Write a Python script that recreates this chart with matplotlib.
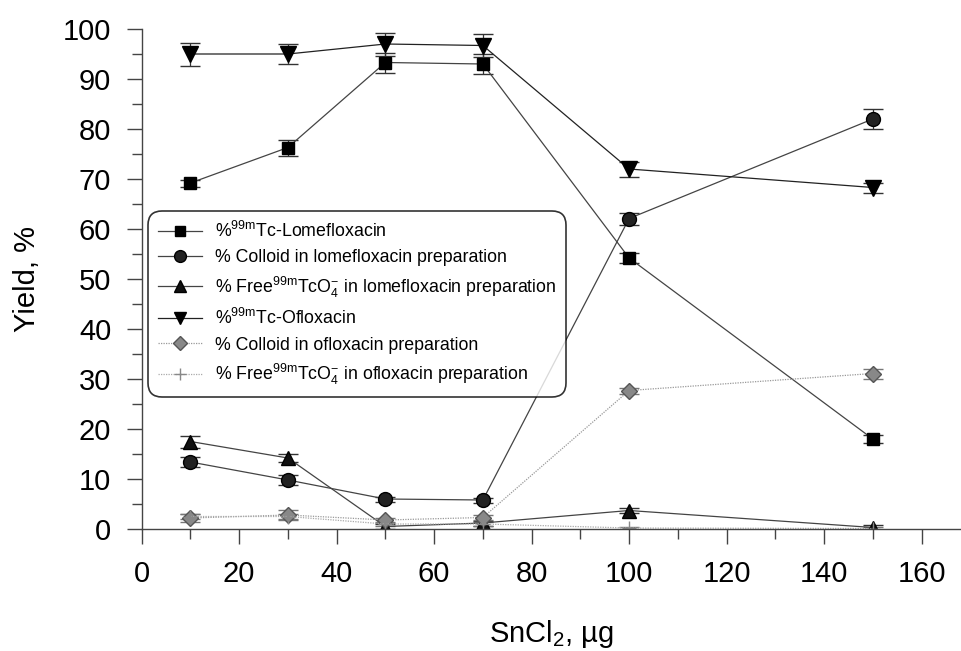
import matplotlib
matplotlib.use("Agg")
import matplotlib.pyplot as plt
from matplotlib.ticker import MultipleLocator
from matplotlib.lines import Line2D

plt.rcParams['font.family'] = ['Liberation Sans', 'DejaVu Sans']
plt.rcParams['mathtext.fontset'] = 'custom'
plt.rcParams['mathtext.rm'] = 'Liberation Sans'
plt.rcParams['mathtext.it'] = 'Liberation Sans'

x = [10, 30, 50, 70, 100, 150]

tc_lome = [69.2, 76.3, 93.3, 93.0, 54.2, 18.0]
tc_lome_err = [0.7, 1.6, 2.0, 2.0, 1.0, 0.8]
col_lome = [13.4, 9.8, 6.0, 5.8, 62.1, 82.0]
col_lome_err = [1.0, 1.0, 0.5, 0.5, 1.2, 2.0]
free_lome = [17.5, 14.2, 0.5, 1.2, 3.7, 0.3]
free_lome_err = [1.2, 0.8, 0.5, 0.5, 0.5, 0.5]
tc_oflo = [95.0, 95.0, 97.0, 96.7, 72.0, 68.3]
tc_oflo_err = [2.3, 2.0, 2.3, 2.3, 1.5, 1.0]
col_oflo = [2.2, 2.8, 1.8, 2.3, 27.7, 31.1]
col_oflo_err = [0.8, 1.0, 0.5, 0.5, 0.6, 1.0]
free_oflo = [2.5, 2.5, 1.0, 1.0, 0.2, 0.1]
free_oflo_err = [0.5, 0.5, 0.4, 0.4, 0.3, 0.3]

labels = [
    r"%$^{\mathregular{99m}}$Tc-Lomefloxacin",
    "% Colloid in lomefloxacin preparation",
    r"% Free$^{\mathregular{99m}}$TcO$_{\mathregular{4}}^{\mathregular{-}}$ in lomefloxacin preparation",
    r"%$^{\mathregular{99m}}$Tc-Ofloxacin",
    "% Colloid in ofloxacin preparation",
    r"% Free$^{\mathregular{99m}}$TcO$_{\mathregular{4}}^{\mathregular{-}}$ in ofloxacin preparation",
]

fig = plt.figure(figsize=(9.62, 6.51), dpi=100)
ax = fig.add_axes([141.7/962, 1-529/651, 1-141.7/962, (529-29)/651])

styles = [
    (tc_lome, tc_lome_err, dict(marker='s', ms=9, mfc='black', mec='black', color='#444444', ls='-')),
    (col_lome, col_lome_err, dict(marker='o', ms=10, mfc='#222222', mec='black', color='#444444', ls='-')),
    (free_lome, free_lome_err, dict(marker='^', ms=10, mfc='#111111', mec='black', color='#444444', ls='-')),
    (tc_oflo, tc_oflo_err, dict(marker='v', ms=11, mfc='black', mec='black', color='#222222', ls='-')),
    (col_oflo, col_oflo_err, dict(marker='D', ms=8, mfc='#888888', mec='#555555', color='#999999', ls=(0, (1, 1)))),
    (free_oflo, free_oflo_err, dict(marker='+', ms=10, mfc='#888888', mec='#888888', color='#aaaaaa', ls=(0, (1, 1)))),
]

handles = []
for (yv, ev, st), lab in zip(styles, labels):
    ax.errorbar(x, yv, yerr=ev, lw=0.9, capsize=7, capthick=1.0,
                ecolor='#333333' if st['ls'] == '-' else '#777777',
                elinewidth=0.9, **st)
    hst = dict(st)
    hst['ms'] = st['ms'] * 0.85
    handles.append(Line2D([], [], lw=0.9, **hst))

ax.set_xlim(0, 168.3)
ax.set_ylim(0, 100)
ax.xaxis.set_major_locator(MultipleLocator(20))
ax.xaxis.set_minor_locator(MultipleLocator(10))
ax.yaxis.set_major_locator(MultipleLocator(10))
ax.yaxis.set_minor_locator(MultipleLocator(5))
ax.spines['top'].set_visible(False)
ax.spines['right'].set_visible(False)
for s in ('left', 'bottom'):
    ax.spines[s].set_color('#444444')
    ax.spines[s].set_linewidth(1.0)
ax.tick_params(which='major', direction='out', length=11, width=1, color='#444444',
               labelsize=21, pad=11)
ax.tick_params(which='minor', direction='out', length=7, width=1, color='#444444')

ax.set_xlabel(r"SnCl$_{\mathregular{2}}$, µg", fontsize=21, labelpad=22)
ax.set_ylabel("Yield, %", fontsize=21, labelpad=16)

leg = ax.legend(handles=handles, labels=labels, loc='upper left',
                bbox_to_anchor=(0.0077, 0.636), fontsize=12.8, frameon=True,
                fancybox=True, handlelength=2.5, handletextpad=0.7,
                labelspacing=0.47, borderpad=0.55, borderaxespad=0)
leg.get_frame().set_edgecolor('black')
leg.get_frame().set_linewidth(1.2)
leg.get_frame().set_boxstyle('round', pad=0, rounding_size=0.8)

fig.savefig("out.png", dpi=100)
